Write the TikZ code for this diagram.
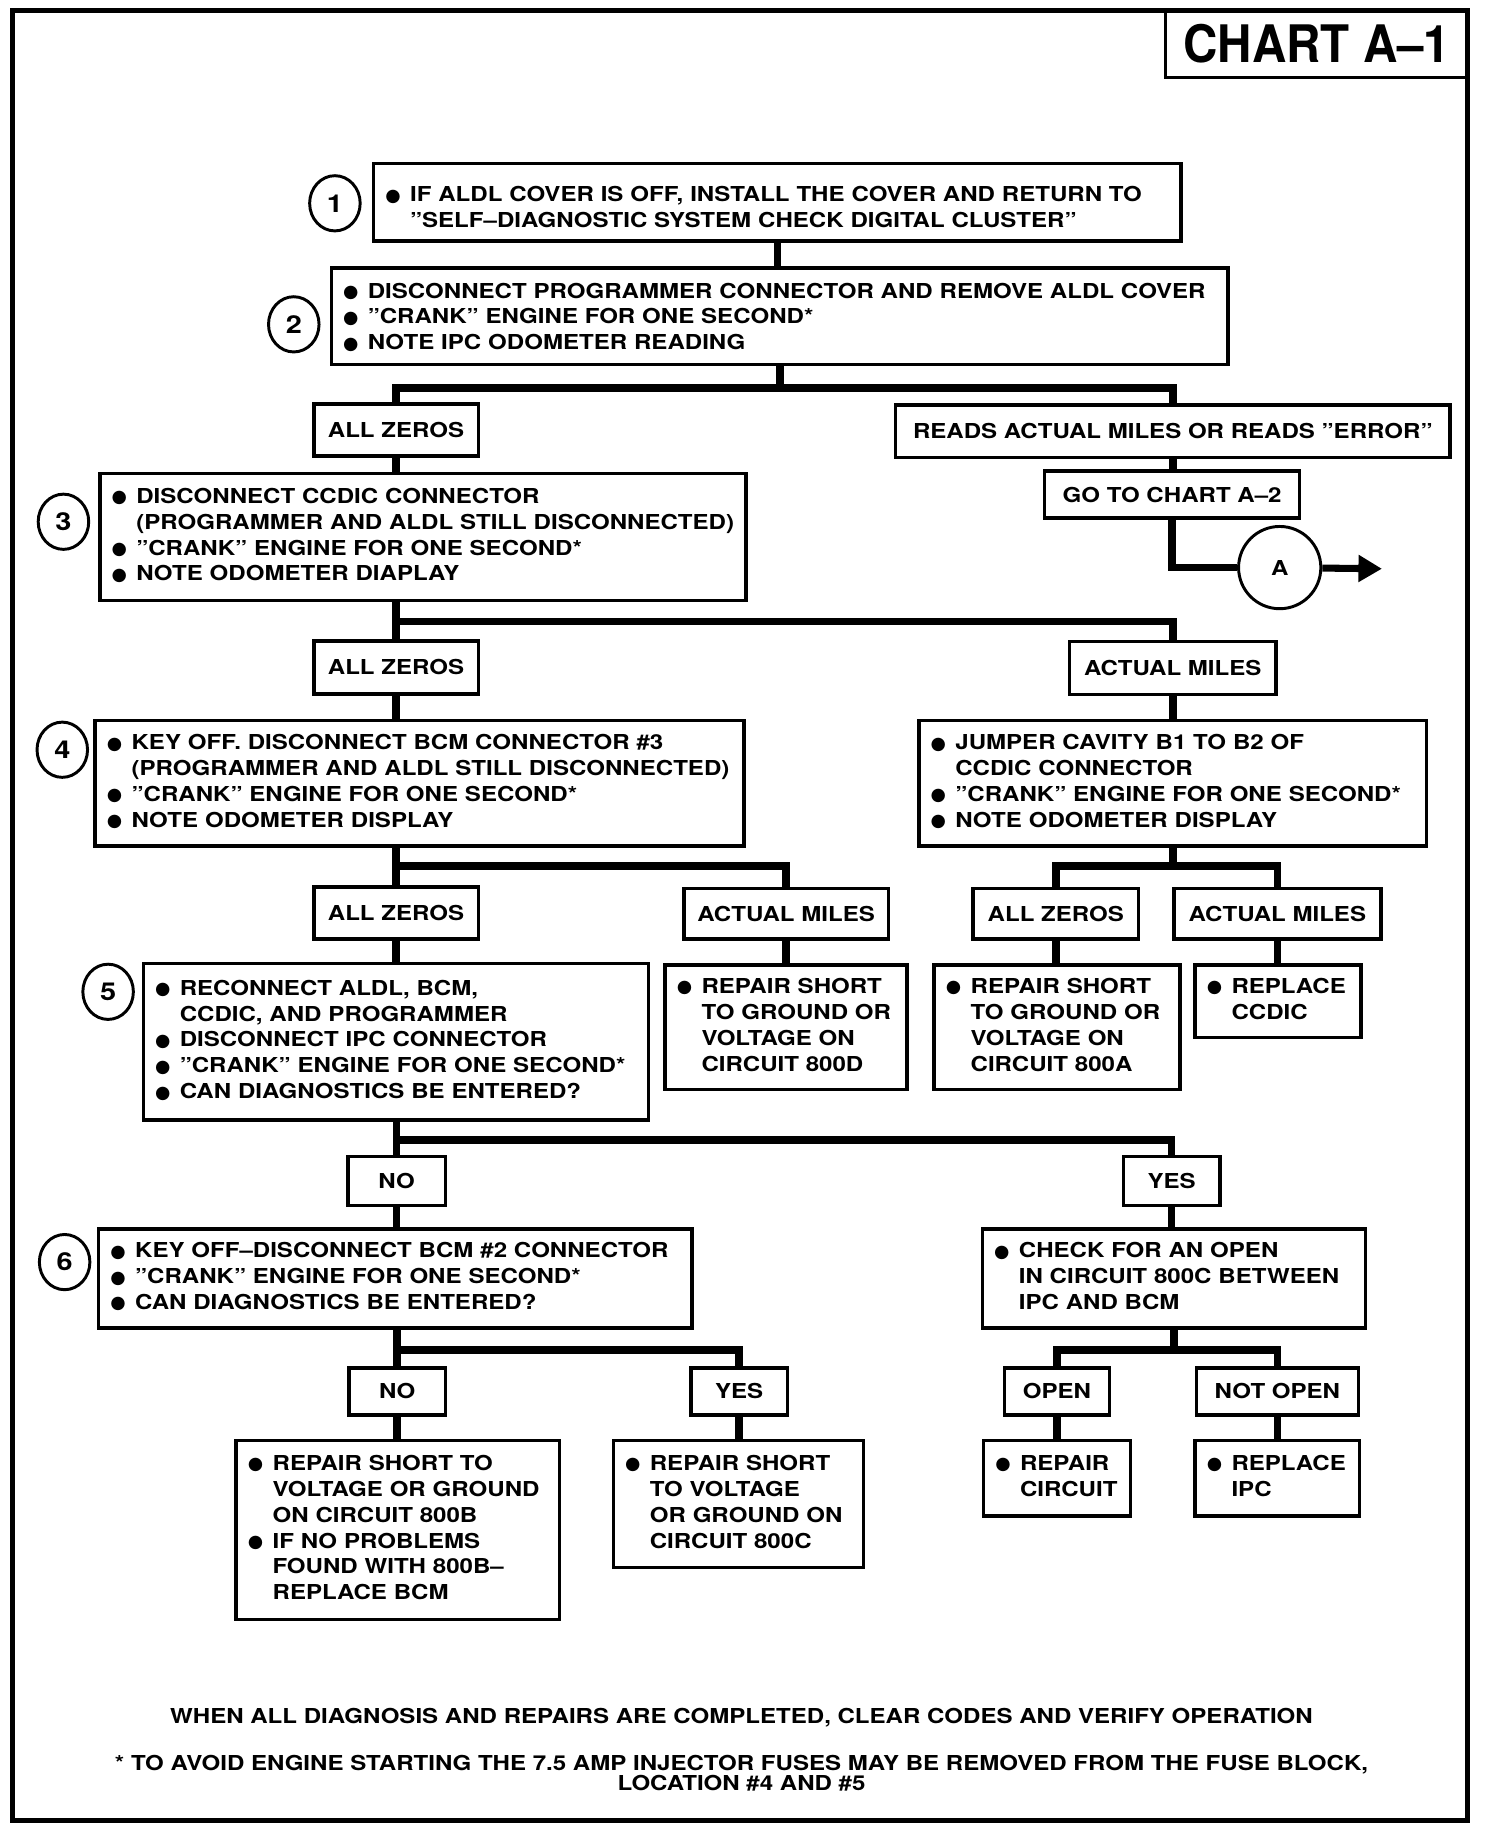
\documentclass[tikz,border=0pt]{standalone}
\usepackage{fontspec}
\setmainfont{TeX Gyre Heros}[FakeStretch=1.17]
\newfontfamily\titlefont{TeX Gyre Heros}[FakeStretch=0.92]
\newfontfamily\dotfont{DejaVu Sans}
\usetikzlibrary{calc,math,arrows.meta,shapes.geometric}

\newcommand{\dotitem}{\makebox[21pt][l]{\dotfont\fontsize{15}{15}\selectfont\raisebox{0.5pt}{●}}}
\newcommand{\dotskip}{\hspace*{21pt}}
\newcommand{\steplines}[1]{\begin{tabular}{@{}l@{}}#1\end{tabular}}

\tikzset{
  stepbox/.style={draw, line width=3pt, inner xsep=10pt, inner ysep=0pt, align=left},
  tagbox/.style={draw, line width=3pt, inner sep=0pt},
  stepnum/.style={draw, ellipse, line width=2.5pt, minimum width=43pt, minimum height=47pt, inner sep=0pt,
    font=\fontsize{21}{21}\selectfont\bfseries},
  link/.style={line width=6.5pt, line join=miter},
}

\begin{document}
\begin{tikzpicture}[x=1pt, y=-1pt, font=\fontsize{17.5}{22}\selectfont\bfseries]
  \useasboundingbox (0,0) rectangle (1266,1559);
  \draw[line width=4.5pt] (10.5,9) rectangle (1249,1549);
  \node[tagbox, minimum width=257pt, minimum height=57pt, font=\titlefont\fontsize{44}{44}\selectfont\bfseries] (title) at (1120.5,37.5) {CHART A–1};

  \foreach \n/\x/\y in {1/285/173, 2/250/276, 3/54/444, 4/53/638, 5/92/844, 6/55/1074} {
    \node[stepnum] (n\n) at (\x,\y) {\n};
  }

  \node[stepbox, text width=667pt, minimum height=66pt] (s1) at (661.5,172) {\steplines{
    \rule{0pt}{28pt}\dotitem IF ALDL COVER IS OFF, INSTALL THE COVER AND RETURN TO\\
    \dotskip "SELF–DIAGNOSTIC SYSTEM CHECK DIGITAL CLUSTER"}};
  \node[stepbox, text width=743pt, minimum height=82pt] (s2) at (663.5,269) {\steplines{
    \rule{0pt}{20pt}\dotitem DISCONNECT PROGRAMMER CONNECTOR AND REMOVE ALDL COVER\\
    \dotitem "CRANK" ENGINE FOR ONE SECOND*\\
    \dotitem NOTE IPC ODOMETER READING}};
  \node[tagbox, minimum width=140pt, minimum height=44pt] (az1) at (337,366) {ALL ZEROS};
  \node[tagbox, minimum width=472pt, minimum height=45pt] (rd) at (998,367) {READS ACTUAL MILES OR READS "ERROR"};
  \node[tagbox, minimum width=217pt, minimum height=40pt] (go) at (997.5,421) {GO TO CHART A–2};
  \node[draw, circle, line width=2.5pt, minimum size=70pt, inner sep=0pt] (ca) at (1089,483) {A};
  \coordinate (outA) at (1176,484);

  \node[stepbox, text width=530pt, minimum height=108pt] (s3) at (360,457) {\steplines{
    \dotitem DISCONNECT CCDIC CONNECTOR\\
    \dotskip (PROGRAMMER AND ALDL STILL DISCONNECTED)\\
    \dotitem "CRANK" ENGINE FOR ONE SECOND*\\
    \dotitem NOTE ODOMETER DIAPLAY}};
  \node[tagbox, minimum width=140pt, minimum height=45pt] (az2) at (337,568) {ALL ZEROS};
  \node[tagbox, minimum width=176pt, minimum height=45pt] (act1) at (998,568.5) {ACTUAL MILES};

  \node[stepbox, text width=532pt, minimum height=107pt] (s4) at (357,666.5) {\steplines{
    \dotitem KEY OFF. DISCONNECT BCM CONNECTOR \#3\\
    \dotskip (PROGRAMMER AND ALDL STILL DISCONNECTED)\\
    \dotitem "CRANK" ENGINE FOR ONE SECOND*\\
    \dotitem NOTE ODOMETER DISPLAY}};
  \node[stepbox, text width=412pt, minimum height=107pt] (s5) at (998,666.5) {\steplines{
    \dotitem JUMPER CAVITY B1 TO B2 OF\\
    \dotskip CCDIC CONNECTOR\\
    \dotitem "CRANK" ENGINE FOR ONE SECOND*\\
    \dotitem NOTE ODOMETER DISPLAY}};
  \node[tagbox, minimum width=140pt, minimum height=44pt] (az3) at (337,777) {ALL ZEROS};
  \node[tagbox, minimum width=174pt, minimum height=43pt] (act2) at (669,777.5) {ACTUAL MILES};
  \node[tagbox, minimum width=141pt, minimum height=43pt] (az4) at (898.5,777.5) {ALL ZEROS};
  \node[tagbox, minimum width=176pt, minimum height=43pt] (act3) at (1087,777.5) {ACTUAL MILES};

  \node[stepbox, text width=410pt, minimum height=133pt] (s6) at (337,886.5) {\steplines{
    \dotitem RECONNECT ALDL, BCM,\\
    \dotskip CCDIC, AND PROGRAMMER\\
    \dotitem DISCONNECT IPC CONNECTOR\\
    \dotitem "CRANK" ENGINE FOR ONE SECOND*\\
    \dotitem CAN DIAGNOSTICS BE ENTERED?}};
  \node[stepbox, text width=186pt, minimum height=106pt] (fix800d) at (669,874) {\steplines{
    \dotitem REPAIR SHORT\\ \dotskip TO GROUND OR\\ \dotskip VOLTAGE ON\\ \dotskip CIRCUIT 800D}};
  \node[stepbox, text width=189pt, minimum height=106pt] (fix800a) at (899.5,874) {\steplines{
    \dotitem REPAIR SHORT\\ \dotskip TO GROUND OR\\ \dotskip VOLTAGE ON\\ \dotskip CIRCUIT 800A}};
  \node[stepbox, text width=121pt, minimum height=62pt] (newccdic) at (1087.5,852) {\steplines{
    \dotitem REPLACE\\ \dotskip CCDIC}};
  \node[tagbox, minimum width=83pt, minimum height=42pt] (no1) at (337.5,1005) {NO};
  \node[tagbox, minimum width=82pt, minimum height=42pt] (yes1) at (997,1005) {YES};

  \node[stepbox, text width=485pt, minimum height=84pt] (s7) at (336.5,1088) {\steplines{
    \dotitem KEY OFF–DISCONNECT BCM \#2 CONNECTOR\\
    \dotitem "CRANK" ENGINE FOR ONE SECOND*\\
    \dotitem CAN DIAGNOSTICS BE ENTERED?}};
  \node[stepbox, text width=306pt, minimum height=84pt] (chk) at (999,1088) {\steplines{
    \dotitem CHECK FOR AN OPEN\\ \dotskip IN CIRCUIT 800C BETWEEN\\ \dotskip IPC AND BCM}};
  \node[tagbox, minimum width=82pt, minimum height=40pt] (no2) at (338,1184) {NO};
  \node[tagbox, minimum width=82pt, minimum height=40pt] (yes2) at (629,1184) {YES};
  \node[tagbox, minimum width=89pt, minimum height=40pt] (open) at (899.5,1184) {OPEN};
  \node[tagbox, minimum width=138pt, minimum height=40pt] (nopen) at (1087,1184) {NOT OPEN};

  \node[stepbox, text width=255pt, minimum height=152pt] (fix800b) at (338.5,1302) {\steplines{
    \dotitem REPAIR SHORT TO\\ \dotskip VOLTAGE OR GROUND\\ \dotskip ON CIRCUIT 800B\\
    \dotitem IF NO PROBLEMS\\ \dotskip FOUND WITH 800B–\\ \dotskip REPLACE BCM}};
  \node[stepbox, text width=193pt, minimum height=108pt] (fix800c) at (628.5,1280) {\steplines{
    \dotitem REPAIR SHORT\\ \dotskip TO VOLTAGE\\ \dotskip OR GROUND ON\\ \dotskip CIRCUIT 800C}};
  \node[stepbox, text width=105pt, minimum height=64pt] (fixckt) at (899.5,1258) {\steplines{
    \dotitem REPAIR\\ \dotskip CIRCUIT}};
  \node[stepbox, text width=120pt, minimum height=64pt] (newipc) at (1087,1258) {\steplines{
    \dotitem REPLACE\\ \dotskip IPC}};

  \node (note1) at (631,1462) {WHEN ALL DIAGNOSIS AND REPAIRS ARE COMPLETED, CLEAR CODES AND VERIFY OPERATION};
  \node[align=center, font=\fontsize{17.5}{17}\selectfont\bfseries] (note2) at (631,1509)
    {* TO AVOID ENGINE STARTING THE 7.5 AMP INJECTOR FUSES MAY BE REMOVED FROM THE FUSE BLOCK,\\ LOCATION \#4 AND \#5};

  \coordinate (j1) at (663.5,330);
  \coordinate (j2) at (337,529);
  \coordinate (j3) at (337,737);
  \coordinate (j4) at (998,737);
  \coordinate (j5) at (337.5,970);
  \coordinate (j6) at (338,1149);
  \coordinate (j7) at (999,1149);

  \draw[link] (s1.south) -- (s1.south |- s2.north);
  \draw[link] (s2.south) -- (j1);
  \draw[link] (az1.north) |- (j1) -| (rd.north);
  \draw[link] (rd.south) -- (rd.south |- go.north);
  \draw[link] (go.south) |- (ca);
  \draw[line width=6pt, -{Triangle[length=20pt,width=22pt]}] (ca) -- (outA);
  \draw[link] (az1.south) -- (az1.south |- s3.north);
  \draw[link] (az2.north |- s3.south) -- (az2.north);
  \draw[link] (j2) -| (act1.north);
  \draw[link] (az2.south) -- (az2.south |- s4.north);
  \draw[link] (act1.south) -- (act1.south |- s5.north);
  \draw[link] (az3.north |- s4.south) -- (az3.north);
  \draw[link] (j3) -| (act2.north);
  \draw[link] (s5.south) -- (j4);
  \draw[link] (az4.north) |- (j4) -| (act3.north);
  \draw[link] (az3.south) -- (az3.south |- s6.north);
  \draw[link] (act2.south) -- (act2.south |- fix800d.north);
  \draw[link] (az4.south) -- (az4.south |- fix800a.north);
  \draw[link] (act3.south) -- (act3.south |- newccdic.north);
  \draw[link] (no1.north |- s6.south) -- (no1.north);
  \draw[link] (j5) -| (yes1.north);
  \draw[link] (no1.south) -- (no1.south |- s7.north);
  \draw[link] (yes1.south) -- (yes1.south |- chk.north);
  \draw[link] (no2.north |- s7.south) -- (no2.north);
  \draw[link] (j6) -| (yes2.north);
  \draw[link] (chk.south) -- (j7);
  \draw[link] (open.north) |- (j7) -| (nopen.north);
  \draw[link] (no2.south) -- (no2.south |- fix800b.north);
  \draw[link] (yes2.south) -- (yes2.south |- fix800c.north);
  \draw[link] (open.south) -- (open.south |- fixckt.north);
  \draw[link] (nopen.south) -- (nopen.south |- newipc.north);
\end{tikzpicture}
\end{document}
